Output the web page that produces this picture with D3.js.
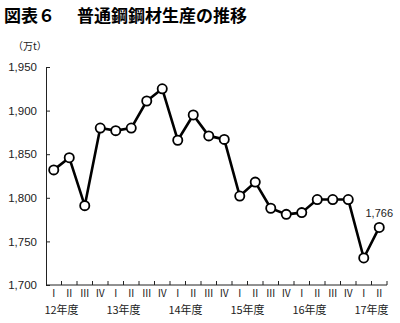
<!DOCTYPE html>
<html>
<head>
<meta charset="utf-8">
<script src="https://cdn.jsdelivr.net/npm/d3@7"></script>
<style>
  body { margin: 0; background: #fff; }
  svg { display: block; }
</style>
</head>
<body>
<div id="chart"></div>
<script>
// data (万t, quarterly)
const years = ["12", "13", "14", "15", "16", "17"];
const quarters = ["Ⅰ", "Ⅱ", "Ⅲ", "Ⅳ"];
const values = [1832, 1846, 1791, 1880, 1877, 1880, 1911, 1925,
                1866, 1895, 1871, 1867, 1802, 1818, 1788, 1781,
                1783, 1798, 1798, 1798, 1731, 1766];
const yTicks = [1700, 1750, 1800, 1850, 1900, 1950];
const lastLabel = "1,766";

const width = 400, height = 323;
const margin = { top: 67, right: 13, bottom: 38, left: 46 };

// one band per quarter
const periods = values.map((v, i) => ({
    key: i,
    year: years[Math.floor(i / 4)],
    q: quarters[i % 4],
    value: v
}));

const svg = d3.select("#chart")
    .append("svg")
    .attr("width", width)
    .attr("height", height);

// title in two parts
svg.append("text")
    .attr("x", 4)
    .attr("y", 22)
    .attr("font-family", "Noto Sans CJK JP")
    .attr("font-weight", "bold")
    .attr("font-size", 17)
    .attr("fill", "#000")
    .text("図表６");
svg.append("text")
    .attr("x", 77)
    .attr("y", 22)
    .attr("font-family", "Noto Sans CJK JP")
    .attr("font-weight", "bold")
    .attr("font-size", 17)
    .attr("fill", "#000")
    .text("普通鋼鋼材生産の推移");

const x = d3.scaleBand()
    .domain(periods.map(d => d.key))
    .range([margin.left, width - margin.right])
    .padding(0);

const y = d3.scaleLinear()
    .domain([1700, 1950])
    .range([height - margin.bottom, margin.top]);

// y axis
const yAxis = svg.append("g")
    .attr("transform", `translate(${margin.left},0)`)
    .call(d3.axisLeft(y).tickValues(yTicks).tickSize(-4).tickPadding(9).tickFormat(d3.format(",")));
yAxis.select(".domain").attr("stroke", "#222");
yAxis.selectAll(".tick line").attr("stroke", "#222");
yAxis.selectAll(".tick text")
    .attr("font-family", "Liberation Sans, Arial")
    .attr("font-size", 11.5)
    .attr("fill", "#222");

svg.append("text")
    .attr("x", 13)
    .attr("y", 50)
    .attr("font-family", "Noto Sans CJK JP")
    .attr("font-size", 10)
    .attr("fill", "#222")
    .text("（万t）");

// x axis: ticks at band boundaries
const xBase = y(1700);
const bounds = periods.map(d => x(d.key) + x.bandwidth());
const xAxis = svg.append("g");
xAxis.append("line")
    .attr("x1", margin.left).attr("x2", width - margin.right)
    .attr("y1", xBase).attr("y2", xBase)
    .attr("stroke", "#222");
xAxis.selectAll(".xtick")
    .data(bounds)
    .enter()
    .append("line")
    .attr("x1", d => d).attr("x2", d => d)
    .attr("y1", xBase).attr("y2", xBase - 4)
    .attr("stroke", "#222");

xAxis.selectAll(".qlabel")
    .data(periods)
    .enter()
    .append("text")
    .attr("x", d => x(d.key) + x.bandwidth() / 2)
    .attr("y", xBase + 11.5)
    .attr("text-anchor", "middle")
    .attr("font-family", "Noto Sans CJK JP")
    .attr("font-size", 10)
    .attr("fill", "#222")
    .text(d => d.q);

// year labels centred on the tick between I and II
xAxis.selectAll(".ylabel")
    .data(years)
    .enter()
    .append("text")
    .attr("x", (d, i) => x(i * 4) + x.bandwidth())
    .attr("y", xBase + 29)
    .attr("text-anchor", "middle")
    .attr("font-family", "Noto Sans CJK JP")
    .attr("font-size", 11)
    .attr("fill", "#222")
    .text(d => d + "年度");

// line
svg.append("path")
    .datum(periods)
    .attr("fill", "none")
    .attr("stroke", "#000")
    .attr("stroke-width", 2.6)
    .attr("stroke-linejoin", "round")
    .attr("d", d3.line()
        .x(d => x(d.key) + x.bandwidth() / 2)
        .y(d => y(d.value)));

svg.selectAll(".dot")
    .data(periods)
    .enter()
    .append("circle")
    .attr("cx", d => x(d.key) + x.bandwidth() / 2)
    .attr("cy", d => y(d.value))
    .attr("r", 4.6)
    .attr("fill", "#fff")
    .attr("stroke", "#000")
    .attr("stroke-width", 1.8);

// label on the last point
const last = periods[periods.length - 1];
svg.append("text")
    .attr("x", x(last.key) + x.bandwidth() / 2)
    .attr("y", y(last.value) - 10)
    .attr("text-anchor", "middle")
    .attr("font-family", "Liberation Sans, Arial")
    .attr("font-size", 11)
    .attr("fill", "#222")
    .text(lastLabel);
</script>
</body>
</html>
